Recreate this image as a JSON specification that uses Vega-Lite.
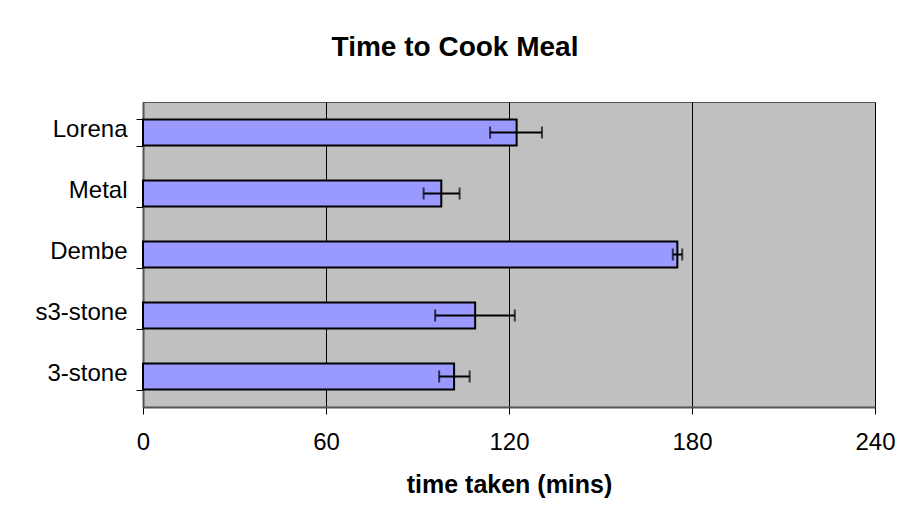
{
  "$schema": "https://vega.github.io/schema/vega-lite/v6.json",
  "width": 732,
  "height": 305,
  "autosize": {"type": "none"},
  "padding": {"left": 143, "top": 102, "right": 31, "bottom": 120},
  "background": "white",
  "title": {
    "text": "Time to Cook Meal",
    "font": "Liberation Sans",
    "fontSize": 28,
    "fontWeight": "bold",
    "color": "black",
    "anchor": "middle",
    "frame": "group",
    "dx": -54,
    "baseline": "alphabetic",
    "offset": 6
  },
  "data": {
    "values": [
      {"stove": "Lorena", "time": 122.5, "lo": 113.8, "hi": 130.8},
      {"stove": "Metal", "time": 97.8, "lo": 92.0, "hi": 103.8},
      {"stove": "Dembe", "time": 175.2, "lo": 173.7, "hi": 176.8},
      {"stove": "s3-stone", "time": 108.9, "lo": 95.8, "hi": 121.9},
      {"stove": "3-stone", "time": 102.0, "lo": 97.1, "hi": 107.1}
    ]
  },
  "encoding": {
    "y": {
      "field": "stove",
      "type": "nominal",
      "sort": null,
      "scale": {"paddingInner": 0.57, "paddingOuter": 0.285},
      "axis": {
        "title": null,
        "labelFont": "Liberation Sans",
        "labelFontSize": 24,
        "labelColor": "black",
        "labelPadding": 9,
        "labelOffset": -3,
        "tickBand": "extent",
        "tickSize": 7,
        "tickColor": "black",
        "domainColor": "#555555",
        "domainWidth": 2,
        "grid": false
      }
    }
  },
  "layer": [
    {
      "mark": {"type": "bar", "fill": "#9999FF", "stroke": "black", "strokeWidth": 2},
      "encoding": {
        "x": {
          "field": "time",
          "type": "quantitative",
          "scale": {"domain": [0, 240]},
          "axis": {
            "values": [0, 60, 120, 180, 240],
            "title": "time taken (mins)",
            "titleFont": "Liberation Sans",
            "titleFontSize": 25,
            "titleFontWeight": "bold",
            "titleColor": "black",
            "titlePadding": 18,
            "labelFont": "Liberation Sans",
            "labelFontSize": 24,
            "labelColor": "black",
            "labelPadding": 16,
            "labelFlush": false,
            "tickSize": 7,
            "tickColor": "black",
            "domainColor": "#555555",
            "domainWidth": 2,
            "grid": true,
            "gridColor": "black",
            "gridOpacity": 1,
            "gridWidth": 1
          }
        }
      }
    },
    {
      "mark": {"type": "rule", "color": "black", "strokeWidth": 2},
      "encoding": {
        "x": {"field": "lo", "type": "quantitative"},
        "x2": {"field": "hi"}
      }
    },
    {
      "mark": {"type": "tick", "color": "black", "size": 12, "thickness": 2},
      "encoding": {"x": {"field": "lo", "type": "quantitative"}}
    },
    {
      "mark": {"type": "tick", "color": "black", "size": 12, "thickness": 2},
      "encoding": {"x": {"field": "hi", "type": "quantitative"}}
    }
  ],
  "config": {
    "view": {"fill": "#C0C0C0", "stroke": "#555555", "strokeWidth": 1}
  }
}
